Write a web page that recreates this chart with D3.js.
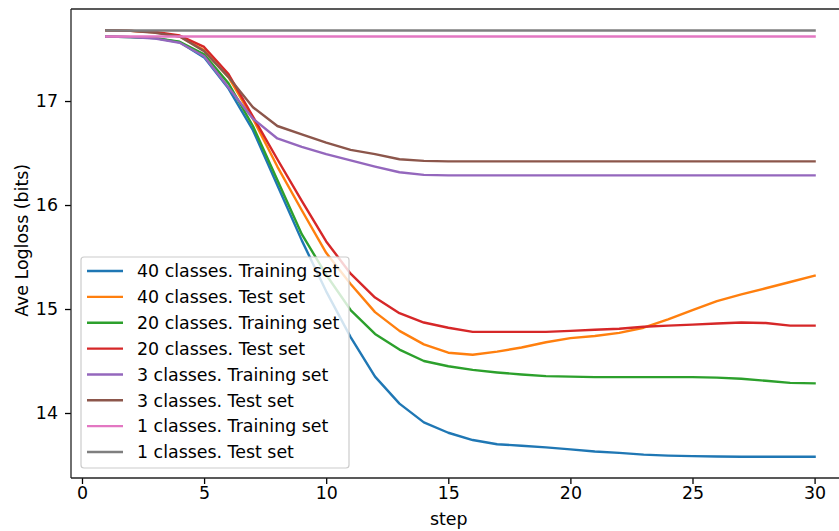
<!DOCTYPE html>
<html>
<head>
<meta charset="utf-8">
<script src="https://cdn.jsdelivr.net/npm/d3@7"></script>
<style>
  html, body { margin: 0; padding: 0; background: #fff; }
  svg { display: block; font-family: "DejaVu Sans", sans-serif; }
</style>
</head>
<body>
<svg id="chart" width="839" height="531"></svg>
<script>
const steps = d3.range(1, 31);

const seriesNames = [
  "40 classes. Training set",
  "40 classes. Test set",
  "20 classes. Training set",
  "20 classes. Test set",
  "3 classes. Training set",
  "3 classes. Test set",
  "1 classes. Training set",
  "1 classes. Test set"
];

const colors = ["#1f77b4", "#ff7f0e", "#2ca02c", "#d62728", "#9467bd", "#8c564b", "#e377c2", "#7f7f7f"];

const train40 = [17.62, 17.615, 17.605, 17.565, 17.42, 17.12, 16.72, 16.19, 15.66, 15.17,
                 14.73, 14.35, 14.09, 13.91, 13.81, 13.74, 13.70, 13.685, 13.67, 13.65,
                 13.63, 13.617, 13.60, 13.59, 13.585, 13.582, 13.58, 13.58, 13.58, 13.58];
const test40 = [17.68, 17.675, 17.66, 17.62, 17.49, 17.23, 16.83, 16.37, 15.95, 15.54,
                15.24, 14.97, 14.79, 14.66, 14.58, 14.56, 14.59, 14.63, 14.68, 14.72,
                14.74, 14.77, 14.82, 14.90, 14.99, 15.075, 15.14, 15.20, 15.26, 15.32];
const train20 = [17.62, 17.615, 17.605, 17.57, 17.45, 17.17, 16.76, 16.24, 15.72, 15.33,
                 14.99, 14.76, 14.61, 14.50, 14.45, 14.415, 14.39, 14.37, 14.355, 14.35,
                 14.345, 14.345, 14.345, 14.345, 14.345, 14.34, 14.33, 14.31, 14.29, 14.285];
const test20 = [17.68, 17.675, 17.665, 17.63, 17.52, 17.26, 16.85, 16.44, 16.04, 15.65,
                15.34, 15.11, 14.96, 14.87, 14.82, 14.78, 14.78, 14.78, 14.78, 14.79,
                14.80, 14.81, 14.83, 14.84, 14.85, 14.86, 14.87, 14.865, 14.84, 14.84];
const train3 = [17.62, 17.615, 17.60, 17.56, 17.43, 17.13, 16.83, 16.64, 16.56, 16.49,
                16.43, 16.37, 16.315, 16.29, 16.285, 16.285, 16.285, 16.285, 16.285, 16.285,
                16.285, 16.285, 16.285, 16.285, 16.285, 16.285, 16.285, 16.285, 16.285, 16.285];
const test3 = [17.68, 17.675, 17.655, 17.62, 17.48, 17.23, 16.94, 16.76, 16.68, 16.60,
               16.53, 16.49, 16.44, 16.425, 16.42, 16.42, 16.42, 16.42, 16.42, 16.42,
               16.42, 16.42, 16.42, 16.42, 16.42, 16.42, 16.42, 16.42, 16.42, 16.42];
const train1 = steps.map(() => 17.62);
const test1 = steps.map(() => 17.678);

const seriesValues = [train40, test40, train20, test20, train3, test3, train1, test1];

const xTicks = [0, 5, 10, 15, 20, 25, 30];
const yTicks = [14, 15, 16, 17];
const xLabel = "step";
const yLabel = "Ave Logloss (bits)";

const svg = d3.select("#chart");
const margin = { left: 71, top: 9, right: 850, bottom: 478 };

const xMin = d3.min(steps), xMax = d3.max(steps);
const xPad = (xMax - xMin) * 0.05;
const allVals = seriesValues.flat();
const yMin = d3.min(allVals), yMax = d3.max(allVals);
const yPad = (yMax - yMin) * 0.05;

const x = d3.scaleLinear().domain([xMin - xPad, xMax + xPad]).range([margin.left, margin.right]);
const y = d3.scaleLinear().domain([yMin - yPad, yMax + yPad]).range([margin.bottom, margin.top]);

const line = d3.line().x((d, i) => x(steps[i])).y(d => y(d));

// lines
const gLines = svg.append("g");
seriesValues.forEach((vals, k) => {
  gLines.append("path")
    .attr("d", line(vals))
    .attr("fill", "none")
    .attr("stroke", colors[k])
    .attr("stroke-width", 2.4)
    .attr("stroke-linejoin", "round")
    .attr("stroke-linecap", "square");
});

// axes
const fs = 17.4;
const xAxis = svg.append("g")
  .attr("transform", `translate(0,${margin.bottom})`)
  .call(d3.axisBottom(x).tickValues(xTicks).tickSize(6).tickPadding(3).tickFormat(d3.format("d")));
const yAxis = svg.append("g")
  .attr("transform", `translate(${margin.left},0)`)
  .call(d3.axisLeft(y).tickValues(yTicks).tickSize(6).tickPadding(7).tickFormat(d3.format("d")));

[xAxis, yAxis].forEach(a => {
  a.select(".domain").remove();
  a.selectAll(".tick line").attr("stroke", "#000").attr("stroke-width", 1.3);
  a.selectAll(".tick text").attr("fill", "#000").style("font-size", fs + "px")
    .style("font-family", "'DejaVu Sans', sans-serif");
});

// spines
const spines = svg.append("g").attr("stroke", "#222").attr("stroke-width", 1.3).attr("fill", "none");
spines.append("line").attr("x1", margin.left).attr("x2", margin.right).attr("y1", margin.bottom).attr("y2", margin.bottom);
spines.append("line").attr("x1", margin.left).attr("x2", margin.right).attr("y1", margin.top).attr("y2", margin.top);
spines.append("line").attr("x1", margin.left).attr("x2", margin.left).attr("y1", margin.top).attr("y2", margin.bottom);
spines.append("line").attr("x1", margin.right).attr("x2", margin.right).attr("y1", margin.top).attr("y2", margin.bottom);

// axis labels
svg.append("text")
  .attr("x", x(15) + 0.5).attr("y", 525)
  .attr("text-anchor", "middle")
  .style("font-size", fs + "px").attr("fill", "#000")
  .text(xLabel);
svg.append("text")
  .attr("transform", `translate(28,${y(15.66)}) rotate(-90)`)
  .attr("text-anchor", "middle")
  .style("font-size", fs + "px").attr("fill", "#000")
  .text(yLabel);

// legend
const lg = svg.append("g");
const lx = 81, ly = 257, lw = 268, lh = 211, rowH = 25.86;
lg.append("rect")
  .attr("x", lx).attr("y", ly).attr("width", lw).attr("height", lh)
  .attr("rx", 3).attr("ry", 3)
  .attr("fill", "#fff").attr("fill-opacity", 0.8)
  .attr("stroke", "#ccc").attr("stroke-width", 1.2);
seriesNames.forEach((name, k) => {
  const yy = ly + 14 + k * rowH;
  lg.append("line")
    .attr("x1", lx + 6).attr("x2", lx + 42)
    .attr("y1", yy).attr("y2", yy)
    .attr("stroke", colors[k]).attr("stroke-width", 2.4);
  lg.append("text")
    .attr("x", lx + 56).attr("y", yy).attr("dy", "0.36em")
    .style("font-size", fs + "px").attr("fill", "#000")
    .text(name);
});
</script>
</body>
</html>
